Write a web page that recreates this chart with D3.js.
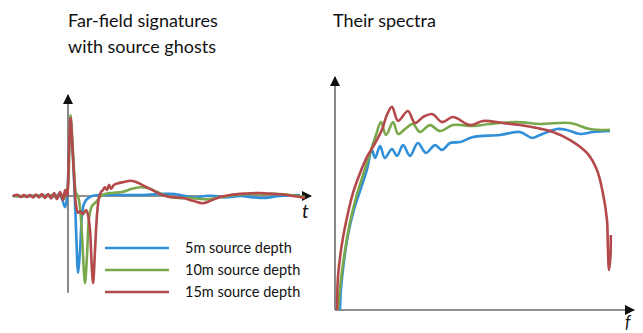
<!DOCTYPE html>
<html>
<head>
<meta charset="utf-8">
<script src="https://cdn.jsdelivr.net/npm/d3@7"></script>
<style>
  body { margin: 0; background: #fff; }
  text { font-family: Lato, "Open Sans", sans-serif; fill: #111; }
</style>
</head>
<body>
<svg width="643" height="333"></svg>
<script>
const svg = d3.select('svg');

// far-field signatures: [time, amplitude]
const sig5m = [[-39.3,0],[-27.1,0],[-16.4,0.6],[-9.3,-0.6],[-6.4,1.9],[-4.3,-3.8],[-2.1,-14],[-0.7,-1.3],
  [0.7,57.5],[1.8,95],[2.9,70],[4.3,20],[5.4,-24],[6.4,-74],[7.1,-96],[8.6,-67.5],[10,-24],[11.4,-10],
  [13.6,-3.8],[17.1,0],[22.9,1.3],[37.1,1.3],[51.4,1.3],[65.7,2.5],[76.4,2.5],[83.6,0],[90.7,-1.9],
  [97.9,0],[105,0],[112.1,-1.9],[122.9,0],[133.6,-1.9],[140.7,-2.5],[151.4,0],[165.7,1.3]];
const sig10m = [[-39.3,0],[-30.7,-0.6],[-23.6,0.6],[-16.4,-0.6],[-11.4,1.3],[-7.9,-1.3],[-5,2.5],[-2.9,-3.8],
  [-1.4,3.8],[0,14],[1.1,70],[1.8,101],[2.9,76],[4.3,32.5],[5.7,3.8],[7.1,0],[8.6,-15],[10,-49],[11.4,-95],
  [12.1,-109],[13.6,-74],[15,-27.5],[17.1,-12.5],[20,-7.5],[22.9,-1.3],[26.4,2.5],[31.4,3.8],[38.6,5],
  [45.7,9],[51.4,11],[57.1,10],[63.6,5],[70,0],[78.6,-2.5],[87.1,-2.5],[94.3,-3.8],[101.4,-3.8],[110,-1.3],
  [119.3,1.3],[130,2.5],[140.7,2.5],[151.4,2.5],[162.1,0.6],[169.3,-1.3]];
const sig15m = [[-39.3,0],[-35.7,1.3],[-33.6,-1.3],[-31.4,1.3],[-29.3,-1.3],[-27.1,1.3],[-25,-1.9],[-22.9,1.9],
  [-20.7,-1.9],[-18.6,2.5],[-16.4,-2.5],[-14.3,2.5],[-12.1,-3.1],[-10,3.8],[-7.9,-3.8],[-5.7,5],[-3.6,-5],
  [-2.1,7.5],[-0.7,0],[0.7,57.5],[1.8,97.5],[2.9,70],[4.3,26],[5.7,-11],[7.1,-21],[8.6,-19],[10.7,-22.5],
  [12.9,-17.5],[14.3,-24],[15.7,-42.5],[17.1,-92.5],[17.9,-109],[19.3,-67.5],[20.7,-24],[22.1,-2.5],[23.6,5],
  [25,7.5],[26.4,11],[27.9,7.5],[29.3,14],[30.7,9],[32.9,14],[35.7,16],[40,17.5],[44.3,19],[48.6,17.5],
  [52.9,14],[58.6,9],[65.7,2.5],[72.9,-1.3],[82.1,-2.5],[89.3,-6],[96.4,-9],[102.9,-5],[108.6,-1.3],
  [115.7,1.3],[126.4,3],[137.1,3.8],[147.9,2.5],[156.4,1.3],[165.7,-1.3],[169.3,-2.5]];

// spectra: [frequency, amplitude]
const spec5m = [[1.7,0],[2,8.7],[3.1,21.7],[4.4,32.6],[6.4,43.5],[8.8,53],[10.8,60.9],[12.5,69.6],[13.6,66.1],
  [15.3,71.3],[16.9,66.1],[19.3,70],[21,67],[23.1,71.7],[25.4,67],[28.1,72.6],[30.8,68.3],[33.9,71.7],
  [36.3,69.6],[39,72.6],[42.4,73],[46.8,75.2],[55.9,76.1],[62.7,77.4],[66.8,74.8],[69.5,76.1],[75.3,78.7],
  [78.6,78.3],[83.1,76.5],[87.5,77.4],[93.2,77.8]];
const spec10m = [[1,0],[2,13],[3.4,26],[5.1,38.3],[7.1,48.7],[9.5,58.7],[11.9,68.3],[13.9,76.1],[15.6,81.7],
  [17.3,76.1],[19.7,81.7],[21.4,76.5],[24.1,79.1],[26.4,80.9],[28.8,77.4],[32.2,80.4],[35.6,77.8],[40,80.4],
  [46.8,80],[52.5,80.9],[61.7,81.7],[69.5,80.9],[79.7,81.3],[86.4,78.7],[93.2,78.3]];
const spec15m = [[0.7,0],[1,14.3],[2.4,29.1],[4.1,40.4],[6.1,50.9],[8.5,59.6],[10.8,66.5],[12.9,71],[15.8,78],
  [17.6,84.8],[19.3,88.3],[21.4,82.2],[24.7,86.5],[27.1,81.3],[29.8,83.9],[32.9,85.2],[36.3,81.7],[40,83.9],
  [45.8,80.4],[50.2,82.2],[56.9,81.3],[62.7,80.4],[68.5,79.1],[73.9,77.4],[79.7,73.9],[85.4,68.3],[88.8,60.9],
  [90.8,50.9],[92.2,39.1],[92.5,27.4],[92.9,17.4],[93.4,24],[93.5,32.6]];

const seriesNames = ['5m source depth', '10m source depth', '15m source depth'];
const colors = ['#2f8fd8', '#7aa84d', '#b3494a'];

// arrow head
svg.append('defs').append('marker')
  .attr('id', 'arrow').attr('viewBox', '0 0 10 10')
  .attr('refX', 9).attr('refY', 5)
  .attr('markerWidth', 10).attr('markerHeight', 10)
  .attr('markerUnits', 'userSpaceOnUse')
  .attr('orient', 'auto')
  .append('path').attr('d', 'M0,0L10,5L0,10z').attr('fill', '#111');

// left panel
const t = d3.scaleLinear().domain([-40, 170]).range([12, 306]);
const a = d3.scaleLinear().domain([-120, 100]).range([292, 116]);

const axisStyle = sel => sel.attr('stroke', '#6b6b6b').attr('stroke-width', 1.6).attr('fill', 'none');

svg.append('line').call(axisStyle)
  .attr('x1', t(0)).attr('y1', a(-121)).attr('x2', t(0)).attr('y2', 95)
  .attr('marker-end', 'url(#arrow)');
svg.append('line').call(axisStyle)
  .attr('x1', t(-40)).attr('y1', a(0)).attr('x2', 311).attr('y2', a(0))
  .attr('marker-end', 'url(#arrow)');

const sigLine = d3.line().x(d => t(d[0])).y(d => a(d[1])).curve(d3.curveCatmullRom.alpha(0.5));
[sig5m, sig10m, sig15m].forEach((s, i) => {
  svg.append('path').datum(s)
    .attr('d', sigLine)
    .attr('fill', 'none')
    .attr('stroke', colors[i])
    .attr('stroke-width', 2.6)
    .attr('stroke-linejoin', 'round');
});

svg.append('text').attr('x', 302).attr('y', 218)
  .style('font-style', 'italic').style('font-size', '19px').text('t');

// legend
const legend = svg.append('g');
seriesNames.forEach((n, i) => {
  const y = 248 + i * 22;
  legend.append('line').attr('x1', 105).attr('x2', 169).attr('y1', y).attr('y2', y)
    .attr('stroke', colors[i]).attr('stroke-width', 2.6);
  legend.append('text').attr('x', 185).attr('y', y + 5)
    .style('font-size', '14.5px').text(n);
});

// right panel
const f = d3.scaleLinear().domain([0, 100]).range([335, 630]);
const s = d3.scaleLinear().domain([0, 100]).range([310, 80]);

svg.append('line').call(axisStyle)
  .attr('x1', f(0)).attr('y1', s(0)).attr('x2', f(0)).attr('y2', 77)
  .attr('marker-end', 'url(#arrow)');
svg.append('line').call(axisStyle)
  .attr('x1', f(0)).attr('y1', s(0)).attr('x2', 634).attr('y2', s(0))
  .attr('marker-end', 'url(#arrow)');

const specLine = d3.line().x(d => f(d[0])).y(d => s(d[1])).curve(d3.curveCatmullRom.alpha(0.5));
[spec5m, spec10m, spec15m].forEach((sp, i) => {
  svg.append('path').datum(sp)
    .attr('d', specLine)
    .attr('fill', 'none')
    .attr('stroke', colors[i])
    .attr('stroke-width', 2.6)
    .attr('stroke-linejoin', 'round');
});

svg.append('text').attr('x', 625).attr('y', 328)
  .style('font-style', 'italic').style('font-size', '17px').text('f');

// titles
svg.append('text').attr('x', 68).attr('y', 27).style('font-size', '18px').text('Far-field signatures');
svg.append('text').attr('x', 68).attr('y', 53).style('font-size', '18px').text('with source ghosts');
svg.append('text').attr('x', 333).attr('y', 27).style('font-size', '18px').text('Their spectra');
</script>
</body>
</html>
